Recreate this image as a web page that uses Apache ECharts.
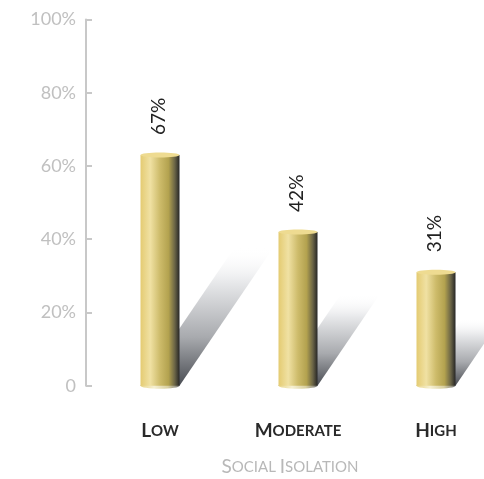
<!DOCTYPE html>
<html>
<head>
<meta charset="utf-8">
<script src="https://cdn.jsdelivr.net/npm/echarts@6/dist/echarts.min.js"></script>
<style>
  html, body { margin: 0; padding: 0; background: #fff; }
  #main { width: 484px; height: 479px; }
</style>
</head>
<body>
<div id="main"></div>
<script>
// data
const categories = ['Low', 'Moderate', 'High'];
const barHeights = [63, 42, 31];      // how tall each cylinder is drawn
const barLabels = [67, 42, 31];       // the printed percentages
const axisName = 'Social Isolation';
const yMin = 0, yMax = 100, yStep = 20;

// fake small caps with two rich styles
function smallCaps(str, big, small) {
  return str.split(' ').map(w => '{' + big + '|' + w[0].toUpperCase() + '}{' + small + '|' + w.slice(1).toUpperCase() + '}').join('{' + small + '| }');
}

const chart = echarts.init(document.getElementById('main'));

function renderItem(params, api) {
  const idx = api.value(0);
  const top = api.coord([idx, api.value(1)]);
  const base = api.coord([idx, 0]);
  const half = 19.5;
  const xl = top[0] - half, xr = top[0] + half;
  const h = base[1] - top[1];
  const hs = h * 0.6;   // shadow length
  const k = 0.68;       // shadow slant
  return {
    type: 'group',
    children: [
      {
        type: 'polygon',
        shape: { points: [[xl, base[1]], [xr, base[1]], [xr + k * hs, base[1] - hs], [xl + k * hs, base[1] - hs]] },
        style: {
          fill: new echarts.graphic.LinearGradient(0, 1, 0, 0, [
            { offset: 0, color: '#4a4d53' },
            { offset: 0.35, color: '#a8aaae' },
            { offset: 0.75, color: '#e8e9eb' },
            { offset: 1, color: 'rgba(255,255,255,0)' }
          ])
        }
      },
      {
        type: 'ellipse',
        shape: { cx: top[0], cy: base[1], rx: half, ry: 3 },
        style: {
          fill: new echarts.graphic.LinearGradient(0, 0, 1, 0, [
            { offset: 0, color: '#e8d587' },
            { offset: 0.35, color: '#f6f0d2' },
            { offset: 0.7, color: '#d9d0a0' },
            { offset: 1, color: '#777' }
          ])
        }
      },
      {
        type: 'rect',
        shape: { x: xl, y: top[1], width: half * 2, height: h },
        style: {
          fill: new echarts.graphic.LinearGradient(0, 0, 1, 0, [
            { offset: 0, color: '#e4cb72' },
            { offset: 0.25, color: '#f0e1a3' },
            { offset: 0.5, color: '#cdbb6a' },
            { offset: 0.72, color: '#b3a24f' },
            { offset: 0.88, color: '#6a6446' },
            { offset: 1, color: '#262626' }
          ])
        }
      },
      {
        type: 'ellipse',
        shape: { cx: top[0], cy: top[1], rx: half, ry: 2.5 },
        style: { fill: '#eedb91' }
      },
      {
        type: 'text',
        x: top[0] - 1,
        y: top[1] - 20,
        rotation: Math.PI / 2,
        style: {
          text: api.value(2) + '%',
          fill: '#222',
          fontSize: 19,
          fontFamily: 'Lato',
          align: 'left',
          verticalAlign: 'middle'
        }
      }
    ]
  };
}

const option = {
  animation: false,
  backgroundColor: '#fff',
  grid: { left: 91, top: 19.5, width: 414, bottom: 93.3, outerBoundsMode: 'none' },
  xAxis: {
    type: 'category',
    data: categories,
    axisLine: { show: false },
    axisTick: { show: false },
    axisLabel: {
      interval: 0,
      margin: 36,
      formatter: v => smallCaps(v, 'a', 'b'),
      rich: {
        a: { fontFamily: 'Lato', fontSize: 19, fontWeight: 'bold', color: '#2a2a2a' },
        b: { fontFamily: 'Lato', fontSize: 15, fontWeight: 'bold', color: '#2a2a2a' }
      }
    },
    name: smallCaps(axisName, 'a', 'b'),
    nameLocation: 'middle',
    nameGap: 72,
    nameTextStyle: {
      padding: [0, 16, 0, 0],
      rich: {
        a: { fontFamily: 'Lato', fontSize: 19, color: '#b8b8b8' },
        b: { fontFamily: 'Lato', fontSize: 15, color: '#b8b8b8' }
      }
    }
  },
  yAxis: {
    type: 'value',
    min: yMin,
    max: yMax,
    interval: yStep,
    offset: 5,
    splitLine: { show: false },
    axisLine: { show: true, lineStyle: { color: '#c8c8c8', width: 2 } },
    axisTick: { show: true, inside: true, length: 6, lineStyle: { color: '#c8c8c8', width: 2 } },
    axisLabel: {
      margin: 10,
      color: '#c0c0c0',
      fontFamily: 'Lato',
      fontSize: 18,
      padding: [9, 0, 0, 0],
      formatter: v => v === 0 ? '0' : v + '%'
    }
  },
  series: [{
    type: 'custom',
    renderItem: renderItem,
    clip: false,
    encode: { x: 0, y: 1 },
    data: categories.map((c, i) => [i, barHeights[i], barLabels[i]])
  }]
};

chart.setOption(option);
</script>
</body>
</html>
